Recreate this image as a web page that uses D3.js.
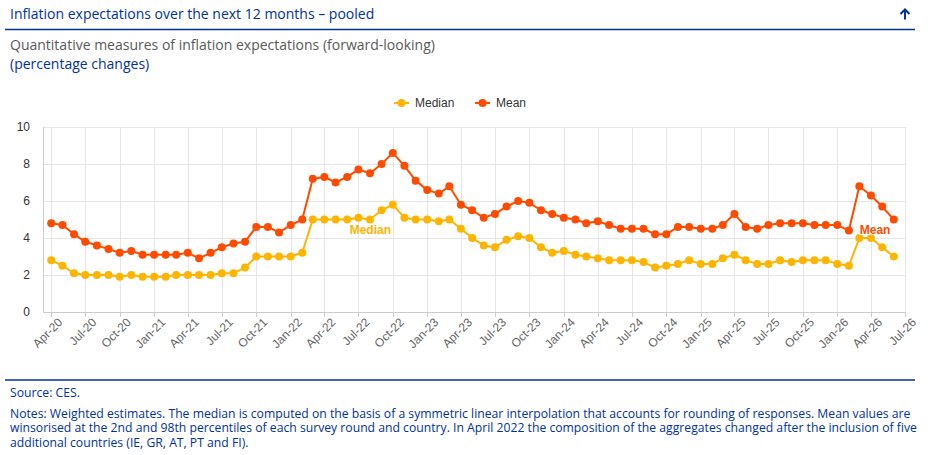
<!DOCTYPE html>
<html>
<head>
<meta charset="utf-8">
<script src="https://cdn.jsdelivr.net/npm/d3@7"></script>
<style>
    body { margin: 0; background: #fff; }
    svg { display: block; }
</style>
</head>
<body>
<svg id="drawing_region"></svg>
<script>
// monthly survey rounds, Apr-20 .. Jun-26
const start_month = new Date(2020, 3, 1);
const end_month = new Date(2026, 5, 1);

const mean_values = [
    4.8, 4.7, 4.2, 3.8, 3.6, 3.4, 3.2, 3.3, 3.1,
    3.1, 3.1, 3.1, 3.2, 2.9, 3.2, 3.5, 3.7, 3.8, 4.6, 4.6, 4.3,
    4.7, 5.0, 7.2, 7.3, 7.0, 7.3, 7.7, 7.5, 8.0, 8.6, 7.9, 7.1,
    6.6, 6.4, 6.8, 5.8, 5.5, 5.1, 5.3, 5.7, 6.0, 5.9, 5.5, 5.3,
    5.1, 5.0, 4.8, 4.9, 4.7, 4.5, 4.5, 4.5, 4.2, 4.2, 4.6, 4.6,
    4.5, 4.5, 4.7, 5.3, 4.6, 4.5, 4.7, 4.8, 4.8, 4.8, 4.7, 4.7,
    4.7, 4.4, 6.8, 6.3, 5.7, 5.0
];

const median_values = [
    2.8, 2.5, 2.1, 2.0, 2.0, 2.0, 1.9, 2.0, 1.9,
    1.9, 1.9, 2.0, 2.0, 2.0, 2.0, 2.1, 2.1, 2.4, 3.0, 3.0, 3.0,
    3.0, 3.2, 5.0, 5.0, 5.0, 5.0, 5.1, 5.0, 5.5, 5.8, 5.1, 5.0,
    5.0, 4.9, 5.0, 4.5, 4.0, 3.6, 3.5, 3.9, 4.1, 4.0, 3.5, 3.2,
    3.3, 3.1, 3.0, 2.9, 2.8, 2.8, 2.8, 2.7, 2.4, 2.5, 2.6, 2.8,
    2.6, 2.6, 2.9, 3.1, 2.8, 2.6, 2.6, 2.8, 2.7, 2.8, 2.8, 2.8,
    2.6, 2.5, 4.0, 4.0, 3.5, 3.0
];

const y_ticks = [0, 2, 4, 6, 8, 10];

const notes_lines = [
    'Notes: Weighted estimates. The median is computed on the basis of a symmetric linear interpolation that accounts for rounding of responses. Mean values are',
    'winsorised at the 2nd and 98th percentiles of each survey round and country. In April 2022 the composition of the aggregates changed after the inclusion of five',
    'additional countries (IE, GR, AT, PT and FI).'
];

const months = d3.timeMonth.range(start_month, d3.timeMonth.offset(end_month, 1));

const series = [
    { name: 'Median', color: '#FFB400', values: median_values, label_date: new Date(2022, 7, 2), label_value: 4.2 },
    { name: 'Mean', color: '#FF4B00', values: mean_values, label_date: new Date(2026, 3, 12), label_value: 4.2 }
];

class LineChart {

    constructor( config, series ) {
        this.config = config;
        this.series = series;
        this.init();
    }

    init() {
        let self = this;

        self.svg = d3.select( self.config.parent )
            .attr('width', self.config.width)
            .attr('height', self.config.height);

        self.xscale = d3.scaleTime()
            .domain([new Date(2020, 2, 10), new Date(2026, 6, 1)])
            .range([self.config.plot.left, self.config.plot.right]);

        self.yscale = d3.scaleLinear()
            .domain([0, 10])
            .range([self.config.plot.bottom, self.config.plot.top]);

        self.xticks = d3.timeMonth.every(3).range(new Date(2020, 3, 1), new Date(2026, 6, 2));
    }

    render() {
        let self = this;
        const p = self.config.plot;
        const blue = '#003299';

        // header
        self.svg.append('text')
            .attr('x', 10).attr('y', 19)
            .attr('font-family', '"Open Sans", sans-serif')
            .attr('font-size', '14px')
            .attr('fill', blue)
            .text('Inflation expectations over the next 12 months \u2013 pooled');

        self.svg.append('path')
            .attr('d', 'M905,19.5V9.5M900.5,14L905,9.5L909.5,14')
            .attr('fill', 'none')
            .attr('stroke', blue)
            .attr('stroke-width', 2);

        self.svg.append('line')
            .attr('x1', 5).attr('x2', 915)
            .attr('y1', 29.5).attr('y2', 29.5)
            .attr('stroke', blue)
            .attr('stroke-width', 1.5);

        self.svg.append('text')
            .attr('x', 10).attr('y', 50)
            .attr('font-family', '"Open Sans", sans-serif')
            .attr('font-size', '14px')
            .attr('fill', '#595959')
            .text('Quantitative measures of inflation expectations (forward-looking)');

        self.svg.append('text')
            .attr('x', 10).attr('y', 69)
            .attr('font-family', '"Open Sans", sans-serif')
            .attr('font-size', '14px')
            .attr('fill', blue)
            .text('(percentage changes)');

        // legend
        const legend = self.svg.append('g')
            .attr('font-family', '"Liberation Sans", Arial, sans-serif')
            .attr('font-size', '12px');
        const legend_x = [394, 475];
        self.series.forEach( (s, i) => {
            const g = legend.append('g').attr('transform', `translate(${legend_x[i]}, 103)`);
            g.append('line').attr('x1', 0).attr('x2', 15)
                .attr('stroke', s.color).attr('stroke-width', 2);
            g.append('circle').attr('cx', 7.5).attr('r', 4).attr('fill', s.color);
            g.append('text').attr('x', 21).attr('dy', '0.35em')
                .attr('fill', '#333').text(s.name);
        });

        // grid
        const grid = self.svg.append('g').attr('stroke', '#e6e6e6').attr('stroke-width', 1);
        grid.selectAll('.hgrid')
            .data(y_ticks)
            .join('line')
            .attr('x1', p.left).attr('x2', p.right)
            .attr('y1', d => Math.round(self.yscale(d)) + 0.5)
            .attr('y2', d => Math.round(self.yscale(d)) + 0.5);
        grid.selectAll('.vgrid')
            .data(self.xticks)
            .join('line')
            .attr('x1', d => Math.round(self.xscale(d)) + 0.5)
            .attr('x2', d => Math.round(self.xscale(d)) + 0.5)
            .attr('y1', p.top).attr('y2', p.bottom);

        // axes lines
        self.svg.append('line')
            .attr('x1', p.left + 0.5).attr('x2', p.left + 0.5)
            .attr('y1', p.top).attr('y2', p.bottom)
            .attr('stroke', '#ccc');
        self.svg.append('line')
            .attr('x1', p.left).attr('x2', p.right)
            .attr('y1', Math.round(p.bottom) + 0.5).attr('y2', Math.round(p.bottom) + 0.5)
            .attr('stroke', '#ccc');

        // x ticks and labels
        const xaxis = self.svg.append('g')
            .attr('font-family', '"Liberation Sans", Arial, sans-serif')
            .attr('font-size', '12px');
        xaxis.selectAll('line')
            .data(self.xticks)
            .join('line')
            .attr('x1', d => Math.round(self.xscale(d)) + 0.5)
            .attr('x2', d => Math.round(self.xscale(d)) + 0.5)
            .attr('y1', p.bottom).attr('y2', p.bottom + 5)
            .attr('stroke', '#ccc');
        xaxis.selectAll('text')
            .data(self.xticks)
            .join('text')
            .attr('transform', d => `translate(${self.xscale(d) + 12}, ${p.bottom + 11}) rotate(-45)`)
            .attr('text-anchor', 'end')
            .attr('fill', '#666')
            .text(d => d3.timeFormat('%b-%y')(d));

        // y labels
        self.svg.append('g')
            .attr('font-family', '"Liberation Sans", Arial, sans-serif')
            .attr('font-size', '12px')
            .selectAll('text')
            .data(y_ticks)
            .join('text')
            .attr('x', 30)
            .attr('y', d => self.yscale(d))
            .attr('dy', '0.35em')
            .attr('text-anchor', 'end')
            .attr('fill', '#333')
            .text(d => d);

        // series
        const line = d3.line()
            .x((d, i) => self.xscale(months[i]))
            .y(d => self.yscale(d));

        self.series.forEach( s => {
            const g = self.svg.append('g');
            g.append('path')
                .attr('d', line(s.values))
                .attr('fill', 'none')
                .attr('stroke', s.color)
                .attr('stroke-width', 2)
                .attr('stroke-linejoin', 'round');
            g.selectAll('circle')
                .data(s.values)
                .join('circle')
                .attr('cx', (d, i) => self.xscale(months[i]))
                .attr('cy', d => self.yscale(d))
                .attr('r', 4)
                .attr('fill', s.color);
        });

        // series labels
        self.svg.append('g')
            .attr('font-family', '"Liberation Sans", Arial, sans-serif')
            .attr('font-size', '12px')
            .attr('font-weight', 'bold')
            .selectAll('text')
            .data(self.series)
            .join('text')
            .attr('x', d => self.xscale(d.label_date))
            .attr('y', d => self.yscale(d.label_value))
            .attr('text-anchor', 'middle')
            .attr('fill', d => d.color)
            .attr('stroke', '#fff')
            .attr('stroke-width', 2)
            .attr('paint-order', 'stroke')
            .text(d => d.name);

        // footer
        self.svg.append('line')
            .attr('x1', 5).attr('x2', 915)
            .attr('y1', 380).attr('y2', 380)
            .attr('stroke', blue)
            .attr('stroke-width', 1.5);

        const footer = self.svg.append('g')
            .attr('font-family', '"Open Sans", sans-serif')
            .attr('font-size', '12.2px')
            .attr('fill', blue);
        footer.append('text').attr('x', 10).attr('y', 397).text('Source: CES.');
        footer.selectAll('.note')
            .data(notes_lines)
            .join('text')
            .attr('x', 10)
            .attr('y', (d, i) => 417.5 + i * 14.6)
            .text(d => d);
    }
}

let chart = new LineChart({
    parent: '#drawing_region',
    width: 928,
    height: 455,
    plot: { left: 43, right: 905, top: 127, bottom: 312 }
}, series);
chart.render();
</script>
</body>
</html>
